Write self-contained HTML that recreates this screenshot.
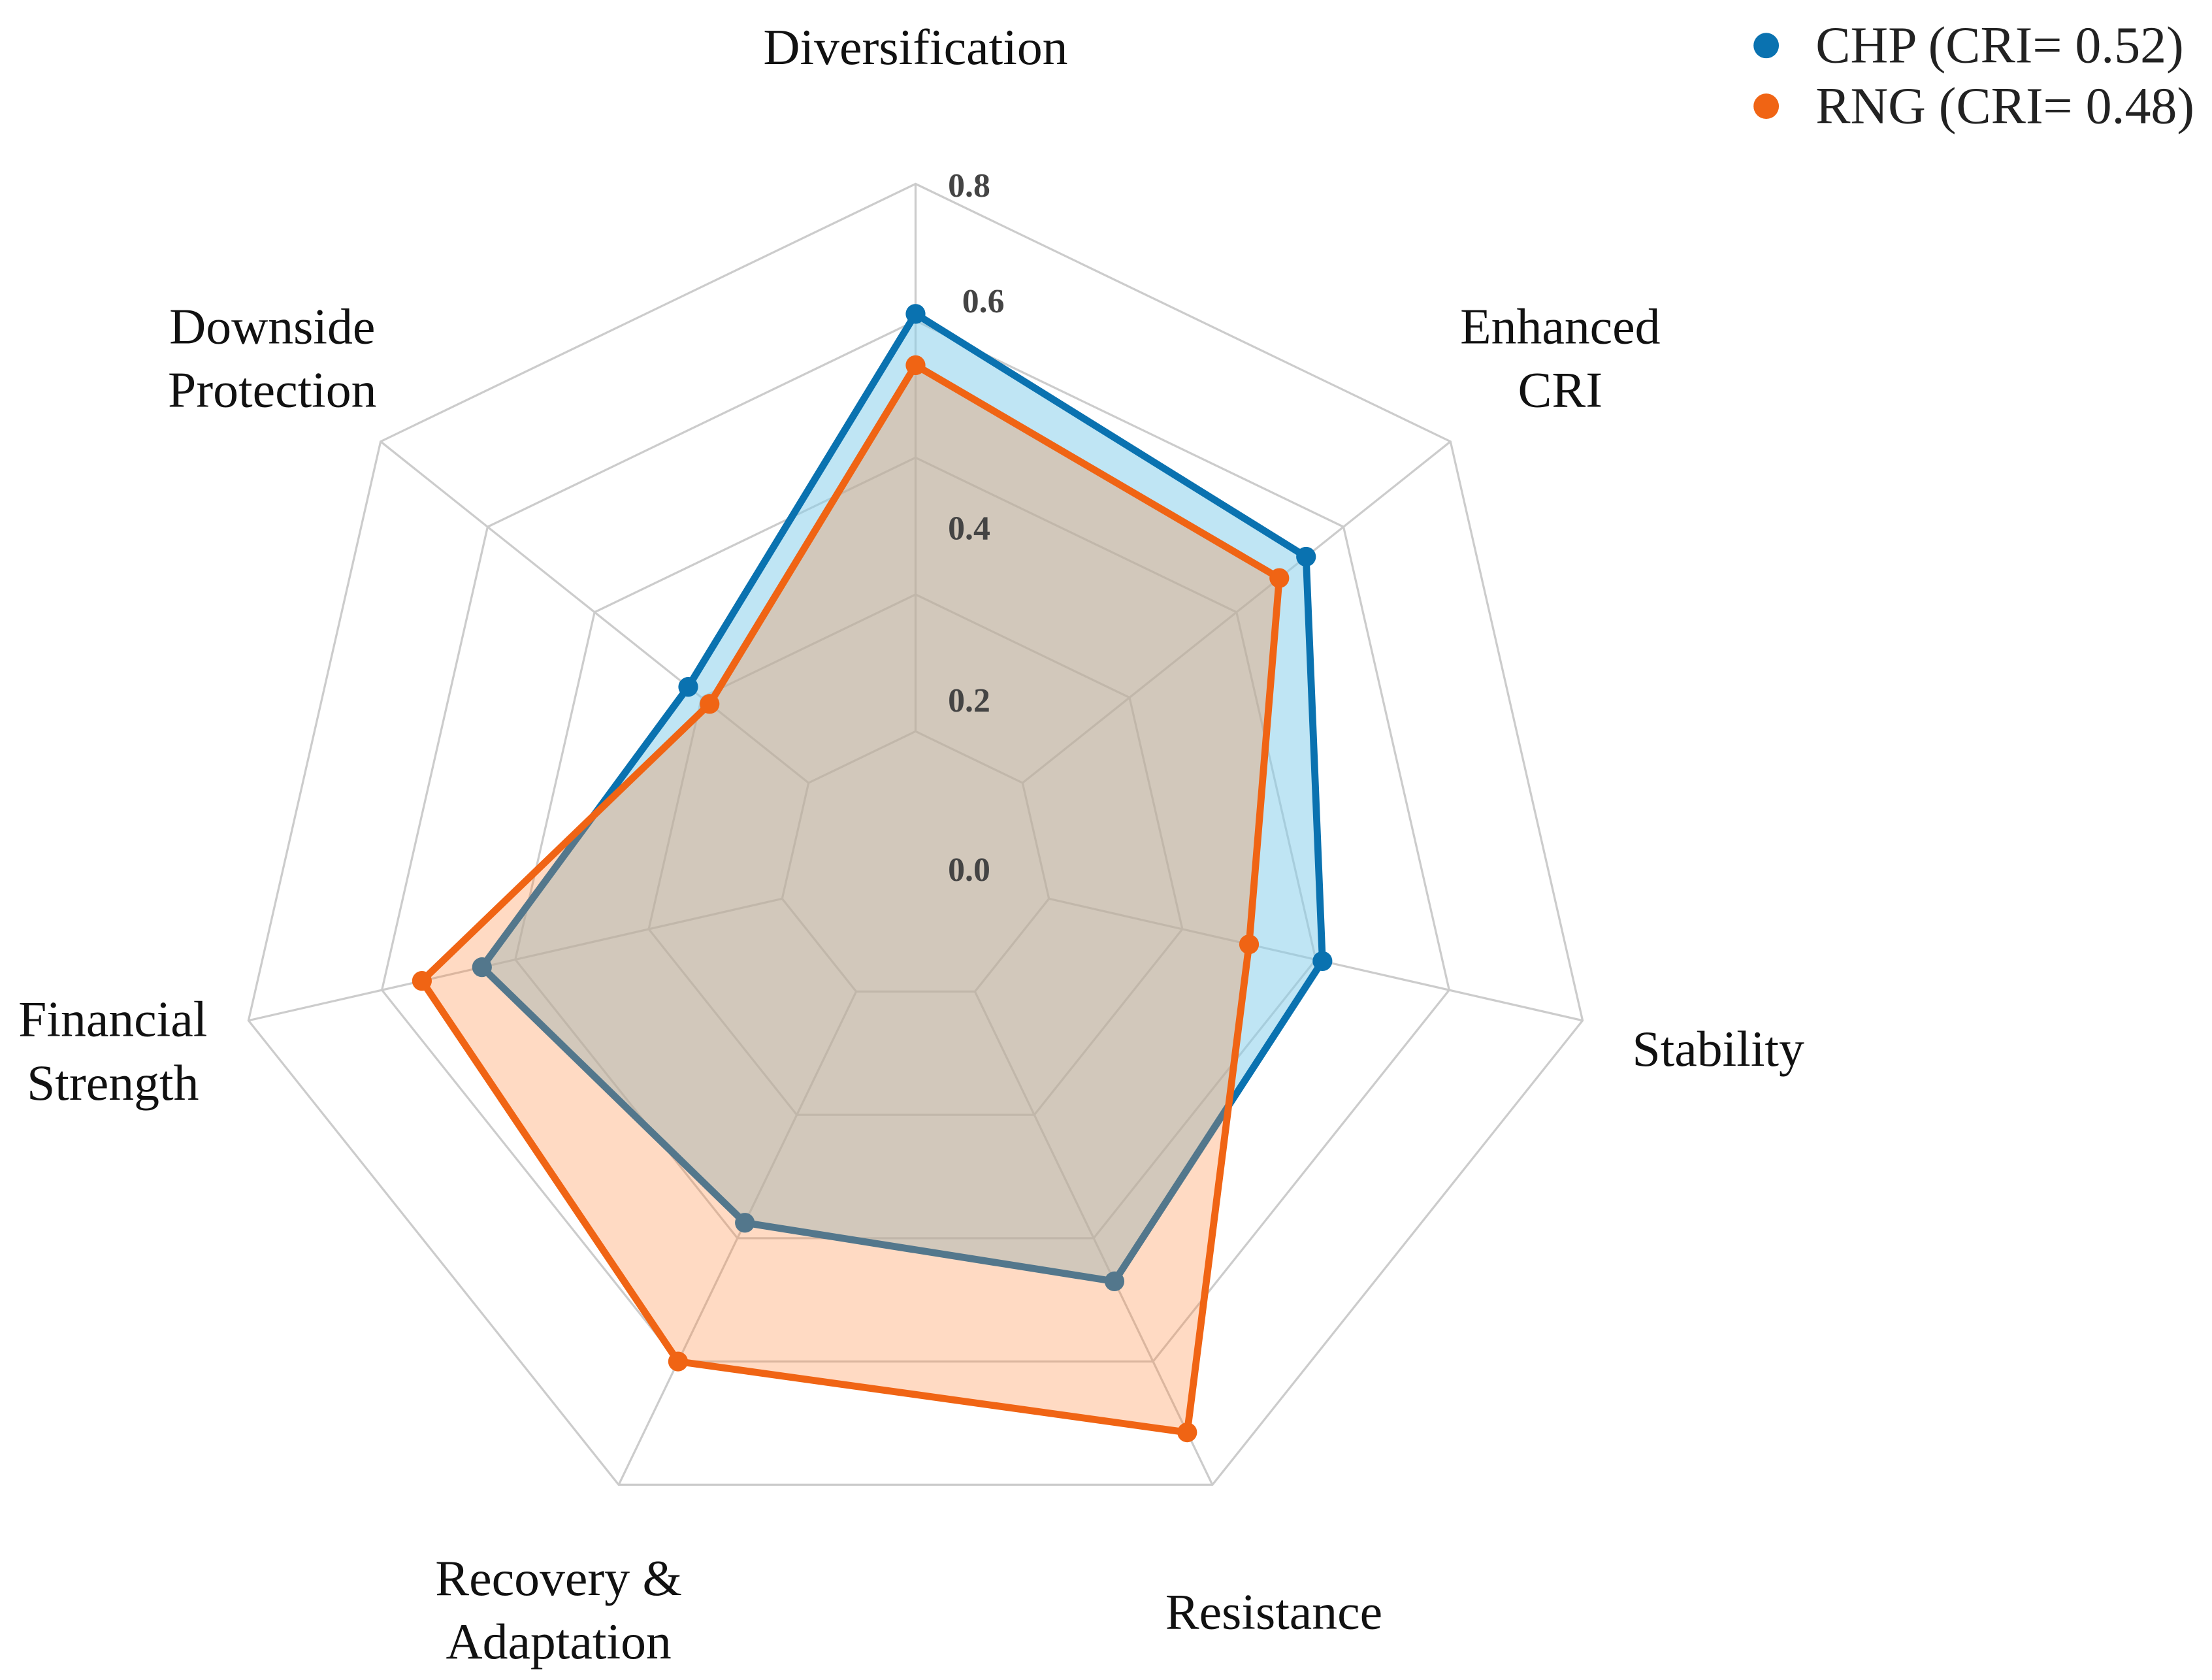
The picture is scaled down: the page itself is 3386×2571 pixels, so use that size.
<!DOCTYPE html>
<html><head><meta charset="utf-8"><style>
html,body{margin:0;padding:0;background:#fff;}
svg{display:block;}
</style></head><body>
<svg id="chart" width="3386" height="2571" viewBox="0 0 1568 1190" xmlns="http://www.w3.org/2000/svg" font-family="'Liberation Serif', serif">
<g id="grid"></g>
<g id="series"></g>
<g id="labels"></g>
<g>
  <circle cx="1252" cy="32" r="9" fill="#0a72b0"/>
  <text x="1287" y="44" font-size="37" fill="#222">CHP (CRI= 0.52)</text>
  <circle cx="1252" cy="75" r="9" fill="#f06414"/>
  <text x="1287" y="87" font-size="37" fill="#222">RNG (CRI= 0.48)</text>
</g>
</svg>
<script>
const categories = ["Diversification","Enhanced CRI","Stability","Resistance","Recovery & Adaptation","Financial Strength","Downside Protection"];
const chpValues = [0.61, 0.53, 0.41, 0.47, 0.375, 0.45, 0.225];
const rngValues = [0.535, 0.48, 0.30, 0.715, 0.60, 0.54, 0.185];
const ringTicks = [0.0, 0.2, 0.4, 0.6, 0.8];
const tickLabels = ["0.0","0.2","0.4","0.6","0.8"];

const NS = "http://www.w3.org/2000/svg";
const cx = 649, cy = 615, R = 485, rMin = -0.2, rMax = 0.8;
function rScale(v){ return (v - rMin) / (rMax - rMin) * R; }
function ang(i){ return (90 - i * 360 / categories.length) * Math.PI / 180; }
function pt(i, v){ const r = rScale(v); return [cx + r * Math.cos(ang(i)), cy - r * Math.sin(ang(i))]; }
function mk(tag, attrs, parent){ const e = document.createElementNS(NS, tag); for (const k in attrs) e.setAttribute(k, attrs[k]); parent.appendChild(e); return e; }

const grid = document.getElementById('grid');
ringTicks.forEach((t, k) => {
  const pts = categories.map((c, i) => pt(i, t).join(',')).join(' ');
  const p = mk('polygon', {points: pts, fill: 'none', stroke: '#cccccc', 'stroke-width': 1.5}, grid);
  
  
});
categories.forEach((c, i) => {
  const a = pt(i, ringTicks[0]), b = pt(i, ringTicks[ringTicks.length - 1]);
  const l = mk('line', {x1: a[0], y1: a[1], x2: b[0], y2: b[1], stroke: '#cccccc', 'stroke-width': 1.5}, grid);
  
  
});

const series = document.getElementById('series');
function drawSeries(vals, fill, fillOp, stroke, name){
  const g = mk('g', {}, series);
  
  
  const pts = vals.map((v, i) => pt(i, v).join(',')).join(' ');
  const area = mk('polygon', {points: pts, fill: fill, 'fill-opacity': fillOp, stroke: 'none'}, g);
  
  
  const line = mk('polygon', {points: pts, fill: 'none', stroke: stroke, 'stroke-width': 5, 'stroke-linejoin': 'round'}, g);
  
  
  vals.forEach((v, i) => {
    const p = pt(i, v);
    const c = mk('circle', {cx: p[0], cy: p[1], r: 7, fill: stroke}, g);
    
    
  });
  return area;
}
drawSeries(chpValues, '#87ceeb', 0.53, '#0a72b0', 'chp');
drawSeries(rngValues, 'rgb(255,133,55)', 0.3, '#f06414', 'rng');

const labels = document.getElementById('labels');
const tickPos = [[687,615],[687,495],[687,373],[697,212],[687,130]];
tickLabels.forEach((t, k) => {
  const e = mk('text', {x: tickPos[k][0], y: tickPos[k][1] + 9, 'font-size': 24, 'font-weight': 'bold', fill: '#444', 'text-anchor': 'middle'}, labels);
  e.textContent = t;
  
  
});
const catLabelLines = [["Diversification"],["Enhanced","CRI"],["Stability"],["Resistance"],["Recovery &","Adaptation"],["Financial","Strength"],["Downside","Protection"]];
const catLabelPos = [[649,33],[1106,231],[1218,743],[903,1142],[396,1118],[80,722],[193,231]];
catLabelLines.forEach((lines, i) => {
  lines.forEach((ln, j) => {
    const e = mk('text', {x: catLabelPos[i][0], y: catLabelPos[i][1] + 12 + j * 45, 'font-size': 36, fill: '#111', 'text-anchor': 'middle'}, labels);
    e.textContent = ln;
    
    
  });
});
</script>
</body></html>
